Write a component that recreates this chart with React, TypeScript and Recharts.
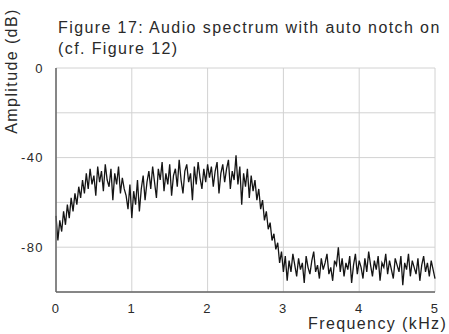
import { LineChart, Line, XAxis, YAxis, CartesianGrid } from 'recharts'

// spectrum sampled every 25 Hz from 0 to 5 kHz
const FREQ_STEP_KHZ = 0.025

const AMPLITUDE_DB: number[] = [
  // 0 - 0.3 kHz, rising edge
  -66, -77, -68, -73, -64, -70, -61, -67, -58, -64, -56, -61, -53,
  // 0.325 - 0.9 kHz
  -58, -50, -56, -47, -54, -45, -52, -48, -57, -44, -51, -46, -55, -43, -50, -53, -45, -59, -47, -52, -44, -56, -49, -54,
  // 0.925 - 1.2 kHz, dip
  -57, -63, -52, -67, -55, -61, -50, -64, -54, -48, -59, -51,
  // 1.225 - 2.0 kHz
  -46, -54, -44, -51, -58, -45, -50, -42, -55, -47, -52, -43, -57, -48, -45, -53, -41, -50, -56, -46, -43, -51, -47, -59,
  -44, -52, -42, -49, -54, -45, -51, -43,
  // 2.025 - 2.6 kHz
  -49, -44, -53, -46, -42, -56, -47, -43, -51, -45, -41, -54, -46, -50, -39, -52, -44, -61, -47, -53, -45, -58, -48, -55,
  // 2.625 - 3.0 kHz, roll-off
  -50, -59, -54, -63, -59, -68, -64, -72, -69, -77, -74, -81, -78, -87, -82, -91,
  // 3.025 - 5.0 kHz, noise floor
  -84, -95, -86, -91, -83, -88, -93, -85, -90, -87, -96, -84, -89, -92, -86, -82, -91, -88, -94, -85,
  -90, -87, -83, -92, -89, -95, -86, -88, -80, -91, -85, -93, -87, -90, -84, -96, -88, -83, -92, -86,
  -89, -94, -85, -91, -82, -88, -93, -86, -90, -84, -95, -87, -89, -83, -92, -86, -90, -94, -85, -88,
  -91, -84, -97, -87, -90, -83, -93, -86, -89, -92, -85, -95, -88, -84, -91, -87, -93, -86, -90, -94,
]

const X_TICKS = [0, 1, 2, 3, 4, 5]
const Y_TICKS = [0, -20, -40, -60, -80, -100]
const Y_LABELLED = [0, -40, -80]

const data = AMPLITUDE_DB.map((db, i) => ({
  freq: Number((i * FREQ_STEP_KHZ).toFixed(3)),
  db,
}))

const FONT = '"Liberation Sans", Arial, sans-serif'
const INK = '#2a2a2a'
const tickStyle = { fontSize: 13, fill: INK, fontFamily: FONT, letterSpacing: 1.4 }

export default function App() {
  return (
    <div
      style={{
        position: 'absolute',
        left: 0,
        top: 0,
        width: 449,
        height: 334,
        overflow: 'hidden',
        background: '#fff',
        fontFamily: FONT,
        color: INK,
        fontSize: 16,
        letterSpacing: 1.4,
      }}
    >
      <LineChart
        width={449}
        height={334}
        data={data}
        margin={{ top: 68, right: 14, bottom: 12, left: 0 }}
        style={{ position: 'absolute', left: 0, top: 0 }}
      >
        <CartesianGrid stroke="#d2d2d2" strokeWidth={1} />
        <XAxis
          dataKey="freq"
          type="number"
          domain={[0, 5]}
          ticks={X_TICKS}
          interval={0}
          height={30}
          tickLine={false}
          tickMargin={6}
          axisLine={{ stroke: '#666', strokeWidth: 1.5 }}
          tick={tickStyle}
        />
        <YAxis
          type="number"
          domain={[-100, 0]}
          ticks={Y_TICKS}
          interval={0}
          width={56}
          tickLine={false}
          tickSize={0}
          tickMargin={12}
          axisLine={{ stroke: '#666', strokeWidth: 1.5 }}
          tick={tickStyle}
          tickFormatter={(v: number) => (Y_LABELLED.includes(v) ? String(v) : '')}
        />
        <Line
          dataKey="db"
          type="linear"
          stroke="#151515"
          strokeWidth={1.3}
          dot={false}
          isAnimationActive={false}
        />
      </LineChart>
      <div style={{ position: 'absolute', left: 58, top: 17, whiteSpace: 'nowrap', lineHeight: '21px' }}>
        Figure 17: Audio spectrum with auto notch on
        <br />
        (cf. Figure 12)
      </div>
      <div
        style={{
          position: 'absolute',
          left: 12,
          top: 71,
          whiteSpace: 'nowrap',
          transform: 'translate(-50%, -50%) rotate(-90deg)',
        }}
      >
        Amplitude (dB)
      </div>
      <div style={{ position: 'absolute', left: 308, top: 315, whiteSpace: 'nowrap' }}>
        Frequency (kHz)
      </div>
    </div>
  )
}
